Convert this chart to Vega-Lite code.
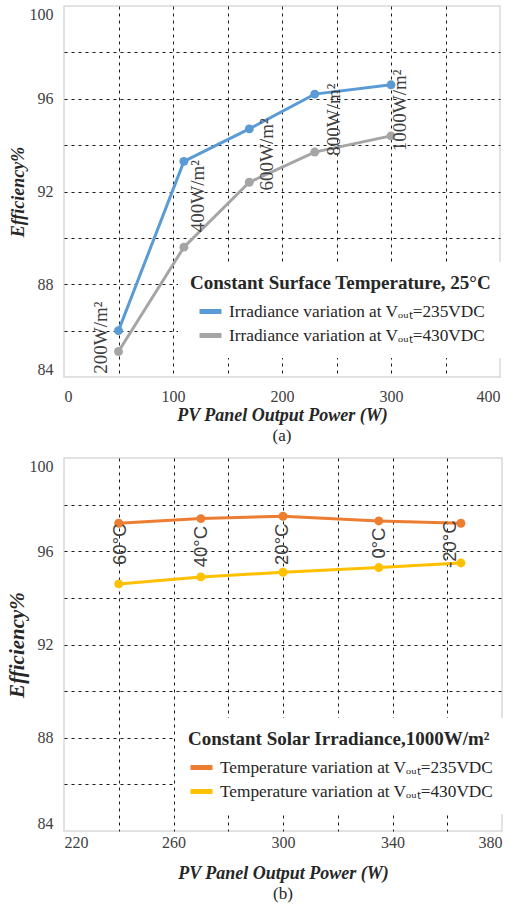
{
  "$schema": "https://vega.github.io/schema/vega-lite/v6.json",
  "background": "white",
  "padding": {"left": 5, "top": 5, "right": 6, "bottom": 2},
  "spacing": 12,
  "resolve": {"scale": {"color": "independent", "x": "independent"}, "legend": {"color": "independent"}},
  "datasets": {
    "irr": [
      {"power": 50, "eff": 86.0, "series": "Irradiance variation at Vₒᵤₜ=235VDC"},
      {"power": 110, "eff": 93.3, "series": "Irradiance variation at Vₒᵤₜ=235VDC"},
      {"power": 170, "eff": 94.7, "series": "Irradiance variation at Vₒᵤₜ=235VDC"},
      {"power": 230, "eff": 96.2, "series": "Irradiance variation at Vₒᵤₜ=235VDC"},
      {"power": 300, "eff": 96.6, "series": "Irradiance variation at Vₒᵤₜ=235VDC"},
      {"power": 50, "eff": 85.1, "series": "Irradiance variation at Vₒᵤₜ=430VDC"},
      {"power": 110, "eff": 89.6, "series": "Irradiance variation at Vₒᵤₜ=430VDC"},
      {"power": 170, "eff": 92.4, "series": "Irradiance variation at Vₒᵤₜ=430VDC"},
      {"power": 230, "eff": 93.7, "series": "Irradiance variation at Vₒᵤₜ=430VDC"},
      {"power": 300, "eff": 94.4, "series": "Irradiance variation at Vₒᵤₜ=430VDC"}
    ],
    "irrLabels": [
      {"power": 34, "eff": 85.7, "label": "200W/m²"},
      {"power": 123, "eff": 91.8, "label": "400W/m²"},
      {"power": 186, "eff": 93.6, "label": "600W/m²"},
      {"power": 248, "eff": 95.1, "label": "800W/m²"},
      {"power": 308, "eff": 95.5, "label": "1000W/m²"}
    ],
    "temp": [
      {"power": 240, "eff": 97.2, "series": "Temperature variation at Vₒᵤₜ=235VDC"},
      {"power": 270, "eff": 97.4, "series": "Temperature variation at Vₒᵤₜ=235VDC"},
      {"power": 300, "eff": 97.5, "series": "Temperature variation at Vₒᵤₜ=235VDC"},
      {"power": 335, "eff": 97.3, "series": "Temperature variation at Vₒᵤₜ=235VDC"},
      {"power": 365, "eff": 97.2, "series": "Temperature variation at Vₒᵤₜ=235VDC"},
      {"power": 240, "eff": 94.6, "series": "Temperature variation at Vₒᵤₜ=430VDC"},
      {"power": 270, "eff": 94.9, "series": "Temperature variation at Vₒᵤₜ=430VDC"},
      {"power": 300, "eff": 95.1, "series": "Temperature variation at Vₒᵤₜ=430VDC"},
      {"power": 335, "eff": 95.3, "series": "Temperature variation at Vₒᵤₜ=430VDC"},
      {"power": 365, "eff": 95.5, "series": "Temperature variation at Vₒᵤₜ=430VDC"}
    ],
    "tempLabels": [
      {"power": 240.5, "eff": 96.3, "label": "60°C"},
      {"power": 270, "eff": 96.2, "label": "40°C"},
      {"power": 299.7, "eff": 96.3, "label": "20°C"},
      {"power": 335, "eff": 96.35, "label": "0°C"},
      {"power": 361, "eff": 96.3, "label": "-20°C"}
    ]
  },
  "config": {
    "view": {"stroke": "#D9D9D9", "strokeWidth": 1.5},
    "font": "Liberation Serif",
    "axis": {
      "domain": false,
      "ticks": false,
      "labelFont": "Liberation Serif",
      "labelFontSize": 16,
      "labelColor": "#404040",
      "labelFlush": true,
      "labelOverlap": false,
      "titleFont": "Liberation Serif",
      "titleFontSize": 18,
      "titleFontWeight": "bold",
      "titleFontStyle": "italic",
      "titleColor": "#262626",
      "gridColor": "#1a1a1a",
      "gridDash": [3, 4],
      "gridWidth": 1
    },
    "axisX": {"labelPadding": 11, "titlePadding": 2, "labelFont": "Liberation Serif", "titleFont": "Liberation Serif"},
    "axisY": {"labelPadding": 11, "titlePadding": 2, "labelFont": "Liberation Serif", "titleFont": "Liberation Serif"},
    "legend": {
      "orient": "none",
      "titleFont": "Liberation Serif",
      "titleFontSize": 19,
      "titleFontWeight": "bold",
      "titleColor": "#262626",
      "titlePadding": 5,
      "labelFont": "Liberation Serif",
      "labelFontSize": 17.3,
      "labelColor": "#262626",
      "symbolType": "stroke",
      "symbolStrokeWidth": 5,
      "symbolSize": 484,
      "symbolOffset": 7,
      "labelOffset": 5,
      "rowPadding": 0,
      "padding": 12,
      "fillColor": "white",
      "labelLimit": 400,
      "titleLimit": 400
    },
    "title": {"orient": "bottom", "offset": 4, "fontSize": 17, "fontWeight": "normal", "font": "Liberation Serif", "color": "#262626", "anchor": "middle"}
  },
  "vconcat": [
    {
      "width": 436,
      "height": 371,
      "title": {"text": "(a)"},
      "layer": [
        {
          "data": {"name": "irr"},
          "mark": {"type": "line", "strokeWidth": 3, "point": {"filled": true, "size": 80, "opacity": 1}},
          "encoding": {
            "x": {
              "field": "power", "type": "quantitative",
              "scale": {"domain": [0, 400], "nice": false},
              "axis": {
                "values": [0, 50, 100, 150, 200, 250, 300, 350, 400],
                "labelExpr": "datum.value % 100 == 0 ? datum.label : ''",
                "labelFont": "Liberation Serif",
                "titleFont": "Liberation Serif",
                "gridOpacity": {"condition": {"test": "datum.value == 0 || datum.value == 400", "value": 0}, "value": 1}
              },
              "title": "PV Panel Output Power (W)"
            },
            "y": {
              "field": "eff", "type": "quantitative",
              "scale": {"domain": [84, 100], "nice": false, "zero": false},
              "axis": {
                "values": [84, 86, 88, 90, 92, 94, 96, 98, 100],
                "labelExpr": "datum.value % 4 == 0 ? datum.label : ''",
                "labelFont": "Liberation Serif",
                "titleFont": "Liberation Serif",
                "gridOpacity": {"condition": {"test": "datum.value == 84 || datum.value == 100", "value": 0}, "value": 1}
              },
              "title": "Efficiency%"
            },
            "color": {
              "field": "series", "type": "nominal",
              "scale": {"domain": ["Irradiance variation at Vₒᵤₜ=235VDC", "Irradiance variation at Vₒᵤₜ=430VDC"], "range": ["#5B9BD5", "#A5A5A5"]},
              "legend": {"title": "Constant Surface Temperature, 25°C", "legendX": 114, "legendY": 256, "symbolType": "stroke"}
            }
          }
        },
        {
          "data": {"name": "irrLabels"},
          "mark": {"type": "text", "angle": 270, "font": "Liberation Serif", "fontSize": 19, "color": "#404040", "align": "center", "baseline": "middle"},
          "encoding": {
            "x": {"field": "power", "type": "quantitative"},
            "y": {"field": "eff", "type": "quantitative"},
            "text": {"field": "label"}
          }
        }
      ]
    },
    {
      "width": 438,
      "height": 373,
      "title": {"text": "(b)"},
      "layer": [
        {
          "data": {"name": "temp"},
          "mark": {"type": "line", "strokeWidth": 3, "point": {"filled": true, "size": 80, "opacity": 1}},
          "encoding": {
            "x": {
              "field": "power", "type": "quantitative",
              "scale": {"domain": [220, 380], "nice": false, "zero": false},
              "axis": {
                "values": [220, 240, 260, 280, 300, 320, 340, 360, 380],
                "labelExpr": "(datum.value - 220) % 40 == 0 ? datum.label : ''",
                "labelFont": "Liberation Serif",
                "titleFont": "Liberation Serif",
                "labelPadding": 3,
                "titlePadding": 14,
                "gridOpacity": {"condition": {"test": "datum.value == 220 || datum.value == 380", "value": 0}, "value": 1}
              },
              "title": "PV Panel Output Power (W)"
            },
            "y": {
              "field": "eff", "type": "quantitative",
              "scale": {"domain": [84, 100], "nice": false, "zero": false},
              "axis": {
                "values": [84, 86, 88, 90, 92, 94, 96, 98, 100],
                "labelExpr": "datum.value % 4 == 0 ? datum.label : ''",
                "labelFont": "Liberation Serif",
                "titleFont": "Liberation Serif",
                "gridOpacity": {"condition": {"test": "datum.value == 84 || datum.value == 100", "value": 0}, "value": 1},
                "titleFontSize": 21
              },
              "title": "Efficiency%"
            },
            "color": {
              "field": "series", "type": "nominal",
              "scale": {"domain": ["Temperature variation at Vₒᵤₜ=235VDC", "Temperature variation at Vₒᵤₜ=430VDC"], "range": ["#ED7D31", "#FFC000"]},
              "legend": {"title": "Constant Solar Irradiance,1000W/m²", "legendX": 112, "legendY": 260, "symbolType": "stroke", "symbolOffset": 0}
            }
          }
        },
        {
          "data": {"name": "tempLabels"},
          "mark": {"type": "text", "angle": 270, "font": "Liberation Sans", "fontSize": 18.5, "color": "#404040", "align": "center", "baseline": "middle"},
          "encoding": {
            "x": {"field": "power", "type": "quantitative"},
            "y": {"field": "eff", "type": "quantitative"},
            "text": {"field": "label"}
          }
        }
      ]
    }
  ]
}
